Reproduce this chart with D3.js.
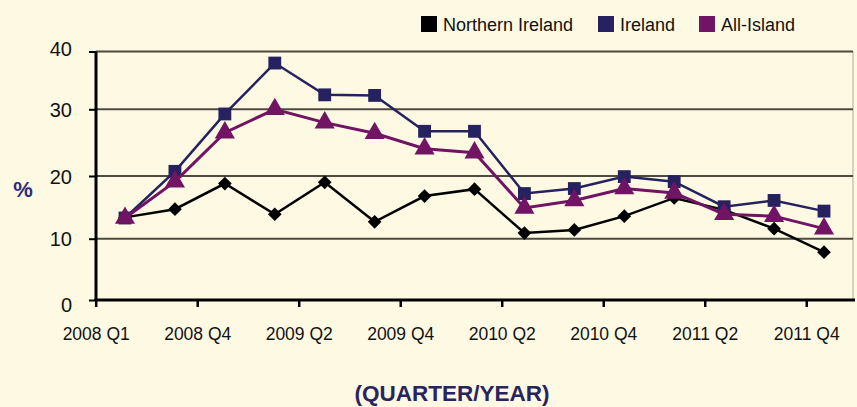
<!DOCTYPE html>
<html>
<head>
<meta charset="utf-8">
<script src="https://cdn.jsdelivr.net/npm/d3@7"></script>
<style>
  html, body { margin: 0; padding: 0; background: #fef9e3; }
  svg { display: block; font-family: "Liberation Sans", Arial, sans-serif; }
</style>
</head>
<body>
<svg id="chart" width="857" height="407"></svg>
<script>
// quarters shown in the chart (15 points)
var quarters = ["2008 Q2","2008 Q3","2008 Q4","2009 Q1","2009 Q2","2009 Q3","2009 Q4","2010 Q1",
                "2010 Q2","2010 Q3","2010 Q4","2011 Q1","2011 Q2","2011 Q3","2011 Q4"];
var tickLabels = ["2008 Q1","2008 Q4","2009 Q2","2009 Q4","2010 Q2","2010 Q4","2011 Q2","2011 Q4"];
var yTicks = [0, 10, 20, 30, 40];

var northernIreland = [13.4, 14.7, 18.8, 13.9, 19.0, 12.7, 16.8, 17.9, 10.9, 11.4, 13.6, 16.5, 14.6, 11.6, 7.8];
var ireland         = [13.3, 20.7, 29.3, 38.0, 32.5, 32.4, 26.7, 26.7, 17.2, 18.0, 19.9, 19.1, 15.1, 16.1, 14.4];
var allIsland       = [13.3, 19.1, 26.5, 30.0, 28.0, 26.4, 24.1, 23.5, 14.9, 16.1, 18.0, 17.3, 13.9, 13.6, 11.6];

var seriesNames = ["Northern Ireland", "Ireland", "All-Island"];
var seriesColors = ["#000000", "#25225f", "#711463"];

var svg = d3.select("#chart");

// y axis in the original is not evenly spaced, so map each gridline
var y = d3.scaleLinear()
    .domain([0, 10, 20, 30, 40])
    .range([300, 238.7, 176, 109.3, 51.5]);

// positions of the category boundaries (tick marks)
var xTick = d3.scaleLinear().domain([0, 15]).range([95.7, 857]);
// positions of the points
var x = d3.scalePoint().domain(quarters).range([125, 824]);

// plot right border
svg.append("line")
    .attr("x1", 853).attr("x2", 853)
    .attr("y1", y(40)).attr("y2", y(0))
    .attr("stroke", "#c8c4b0").attr("stroke-width", 1.5);

// gridlines
svg.append("g")
    .selectAll("line")
    .data(yTicks.filter(function(d) { return d > 0; }))
    .enter().append("line")
      .attr("x1", 96).attr("x2", 853)
      .attr("y1", function(d) { return y(d); })
      .attr("y2", function(d) { return y(d); })
      .attr("stroke", "#4d4b40")
      .attr("stroke-width", 2);

// y axis
var yAxis = svg.append("g")
    .attr("transform", "translate(96,0)")
    .call(d3.axisLeft(y).tickValues(yTicks).tickSize(7).tickPadding(17).tickFormat(d3.format("d")));
yAxis.select(".domain").attr("stroke", "#000").attr("stroke-width", 3)
    .attr("d", "M0," + (y(40)) + "V" + (y(0) + 1));
yAxis.selectAll(".tick line").attr("stroke", "#000").attr("stroke-width", 2);
yAxis.selectAll(".tick text")
    .attr("fill", "#111").style("font-size", "20px")
    .attr("dy", function(d) { return d == 0 ? "0.55em" : (d == 40 ? "0.2em" : "0.35em"); });

// x axis
var xAxis = svg.append("g")
    .attr("transform", "translate(0,300)")
    .call(d3.axisBottom(xTick)
        .tickValues([0, 2, 4, 6, 8, 10, 12, 14])
        .tickSize(7)
        .tickPadding(21)
        .tickFormat(function(d, i) { return tickLabels[i]; }));
xAxis.select(".domain").attr("stroke", "#000").attr("stroke-width", 3)
    .attr("d", "M94.5,0H855");
xAxis.selectAll(".tick line").attr("stroke", "#000").attr("stroke-width", 2.5);
xAxis.selectAll(".tick text").attr("fill", "#111").style("font-size", "17.5px");

// series
var allSeries = [northernIreland, ireland, allIsland];
var line = d3.line()
    .x(function(d, i) { return x(quarters[i]); })
    .y(function(d) { return y(d); });

var symbols = [
  d3.symbol().type(d3.symbolDiamond2).size(120),
  d3.symbol().type(d3.symbolSquare).size(165),
  d3.symbol().type(d3.symbolTriangle).size(175)
];

allSeries.forEach(function(values, s) {
  svg.append("path")
      .datum(values)
      .attr("d", line)
      .attr("fill", "none")
      .attr("stroke", seriesColors[s])
      .attr("stroke-width", s == 2 ? 3 : 2.5);

  svg.append("g")
    .selectAll("path")
    .data(values)
    .enter().append("path")
      .attr("d", symbols[s])
      .attr("transform", function(d, i) {
        return "translate(" + x(quarters[i]) + "," + y(d) + ")";
      })
      .attr("fill", seriesColors[s]);
});

// legend
var legendX = [421, 598, 699];
var legend = svg.append("g");
seriesNames.forEach(function(name, i) {
  legend.append("rect")
      .attr("x", legendX[i]).attr("y", 16)
      .attr("width", 16).attr("height", 16)
      .attr("fill", seriesColors[i]);
  legend.append("text")
      .attr("x", legendX[i] + 22).attr("y", 30.5)
      .style("font-size", "18px")
      .attr("fill", "#111")
      .text(name);
});

// axis titles
svg.append("text")
    .attr("x", 23).attr("y", 197)
    .attr("text-anchor", "middle")
    .style("font-size", "22px").style("font-weight", "bold")
    .attr("fill", "#2f2b78")
    .text("%");

svg.append("text")
    .attr("x", 452).attr("y", 401)
    .attr("text-anchor", "middle")
    .style("font-size", "22.5px").style("font-weight", "bold")
    .attr("fill", "#28245f")
    .text("(QUARTER/YEAR)");
</script>
</body>
</html>
